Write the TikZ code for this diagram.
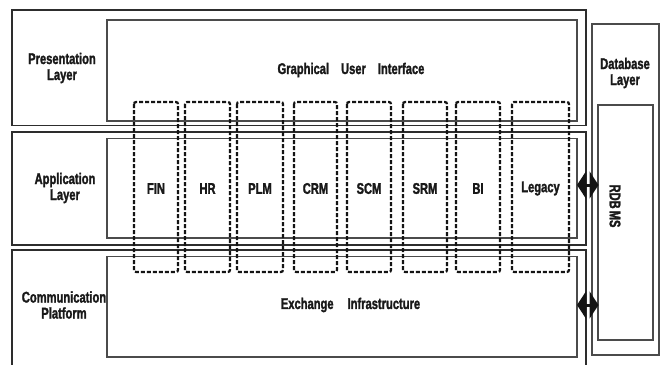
\documentclass[tikz,border=0pt]{standalone}
\usepackage{fontspec}
\usepackage{tikz}
\usetikzlibrary{arrows.meta}
\newfontfamily\layerfont[FakeStretch=0.72, FakeBold=1.6]{Liberation Sans Bold}

\tikzset{
  layerbox/.style={draw={rgb,255:red,45;green,45;blue,45}, line width=1.3pt},
  innerbox/.style={draw={rgb,255:red,75;green,75;blue,75}, line width=1.1pt},
  modbox/.style={draw={rgb,255:red,20;green,20;blue,20}, line width=2.2pt, dash pattern=on 4pt off 2pt, rounded corners=2pt},
  lbl/.style={font=\layerfont\fontsize{15.5}{16}\selectfont, text={rgb,255:red,25;green,25;blue,25}, align=center, inner sep=0pt},
  dbarrow/.style={line width=3pt, draw={rgb,255:red,20;green,20;blue,20}, {Triangle[length=9pt,width=27pt]}-{Triangle[length=9pt,width=27pt]}}
}

\begin{document}
\begin{tikzpicture}[x=1pt,y=-1pt]
\useasboundingbox (0,0) rectangle (666,364);
\fill[white] (0,0) rectangle (666,364);

% layers
\draw[layerbox] (12,10) rectangle (586,125.5);
\draw[innerbox] (107,20) rectangle (577,121);
\draw[layerbox] (12,132) rectangle (586,245);
\draw[innerbox] (107,138.5) rectangle (577,238);
\draw[layerbox] (12,372) |- (586,250) -- (586,372);
\draw[innerbox] (107,256.5) rectangle (577,357);

\node[lbl] (pres) at (62,68) {Presentation\\Layer};
\node[lbl] (app) at (65,188) {Application\\Layer};
\node[lbl] (comm) at (64,305) {Communication\\Platform};
\node[lbl] (gui) at (351,70) {Graphical\hspace{12pt}User\hspace{12pt}Interface};
\node[lbl] (xi) at (350.5,305) {Exchange\hspace{14pt}Infrastructure};

% modules
\foreach \l/\r/\t in {134/178/FIN, 185/230/HR, 237/283/PLM, 294/337/CRM, 347/391/SCM, 403/447/SRM, 456/500/BI, 512/569/Legacy}{
  \draw[modbox] (\l,102) rectangle (\r,272);
  \node[lbl] (m\t) at ({(\l+\r)/2},188.5) {\t};
}

% database
\draw[innerbox] (592,24) rectangle (659,355);
\draw[innerbox] (598,105) rectangle (653,340);
\node[lbl] (dbl) at (625,73) {Database\\Layer};
\node[lbl, rotate=-90] (rdb) at (615,206) {RDB\kern2ptMS};

\coordinate (a1) at (577,185);
\coordinate (d1) at (598.5,185);
\coordinate (a2) at (577,305);
\coordinate (d2) at (598.5,305);
\draw[dbarrow] (a1) -- (d1);
\draw[dbarrow] (a2) -- (d2);

\end{tikzpicture}
\end{document}
